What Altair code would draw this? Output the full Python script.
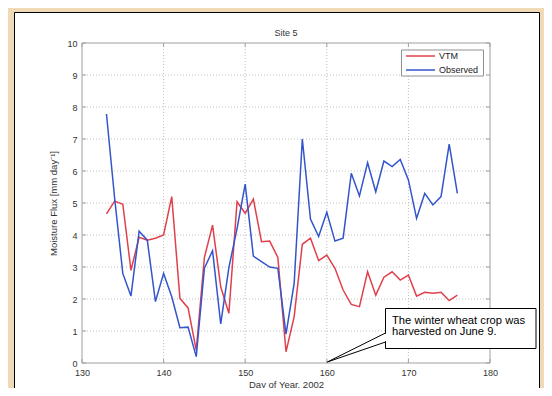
import altair as alt
import pandas as pd

# ---- data ----
days = list(range(133, 177))
vtm = [4.66, 5.06, 4.96, 2.90, 3.93, 3.84, 3.90, 4.00, 5.20, 2.02,
       1.72, 0.40, 3.30, 4.31, 2.38, 1.55, 5.04, 4.68, 5.12, 3.79,
       3.81, 3.30, 0.35, 1.45, 3.71, 3.90, 3.20, 3.37, 2.96, 2.28,
       1.83, 1.76, 2.85, 2.12, 2.68, 2.85, 2.59, 2.75, 2.09, 2.21,
       2.18, 2.21, 1.95, 2.12]
observed = [7.78, 5.15, 2.80, 2.09, 4.12, 3.84, 1.92, 2.80, 2.07, 1.10,
            1.12, 0.20, 2.96, 3.51, 1.22, 2.98, 4.20, 5.59, 3.34, 3.17,
            3.00, 2.96, 0.90, 2.49, 7.00, 4.50, 3.95, 4.71, 3.81, 3.90,
            5.93, 5.22, 6.26, 5.35, 6.31, 6.14, 6.36, 5.72, 4.52, 5.30,
            4.94, 5.20, 6.84, 5.30]
series_names = ["VTM", "Observed"]
series_colors = ["#e0404c", "#3355cc"]
x_ticks = [130, 140, 150, 160, 170, 180]
y_ticks = list(range(0, 11))
note_lines = ["The winter wheat crop was", "harvested on June 9."]
title_text = "Site 5"
x_title = "Day of Year, 2002"
y_title = "Moisture Flux [mm day\u207b\u00b9]"

df = pd.DataFrame({
    "day": days * 2,
    "flux": vtm + observed,
    "series": [series_names[0]] * len(days) + [series_names[1]] * len(days),
})
dummy = pd.DataFrame({"a": [0]})

FONT = "Liberation Sans"
W, H = 408, 320
FRAME = "#a0a0a0"
xs = alt.Scale(domain=[130, 180], nice=False)
ys = alt.Scale(domain=[0, 10], nice=False)

xaxis = alt.Axis(
    values=x_ticks, title=x_title, grid=False, domain=False, ticks=False,
    labelFontSize=9, labelColor="#333", labelPadding=5, labelFlush=False,
    titleFontSize=9.5, titleFontWeight="normal", titleColor="#333",
    titlePadding=2, zindex=1)
yaxis = alt.Axis(
    values=y_ticks, title=y_title, grid=False, domain=False, ticks=False,
    labelFontSize=9, labelColor="#333", labelPadding=5, labelFlush=False,
    titleFontSize=9.5, titleFontWeight="normal", titleColor="#333",
    titlePadding=8, zindex=1)

panel = alt.Chart(dummy).mark_rect(fill="white", stroke="black", strokeWidth=1).encode(
    x=alt.value(-67.5), x2=alt.value(457.5), y=alt.value(-30.5), y2=alt.value(360)
)

title_mark = alt.Chart(dummy).mark_text(
    text=title_text, align="center", baseline="alphabetic", fontSize=9, font=FONT, color="#333"
).encode(x=alt.value(W / 2), y=alt.value(-7))

xgrid = alt.Chart(pd.DataFrame({"t": x_ticks[1:-1]})).mark_rule(
    color="#c0c0c0", strokeDash=[1, 2], strokeWidth=1
).encode(x=alt.X("t:Q", scale=xs, axis=xaxis))

ygrid = alt.Chart(pd.DataFrame({"t": y_ticks[1:-1]})).mark_rule(
    color="#c0c0c0", strokeDash=[1, 2], strokeWidth=1
).encode(y=alt.Y("t:Q", scale=ys, axis=yaxis))

lines = alt.Chart(df).mark_line(strokeWidth=1.5).encode(
    x=alt.X("day:Q", scale=xs, axis=xaxis),
    y=alt.Y("flux:Q", scale=ys, axis=yaxis),
    color=alt.Color("series:N", scale=alt.Scale(domain=series_names, range=series_colors), legend=None),
)

frame = alt.Chart(dummy).mark_rect(fillOpacity=0, stroke=FRAME, strokeWidth=1).encode(
    x=alt.value(0), x2=alt.value(W), y=alt.value(0), y2=alt.value(H)
)

xt = pd.DataFrame({"t": x_ticks})
yt = pd.DataFrame({"t": y_ticks})
tick_layers = [
    alt.Chart(xt).mark_rule(color=FRAME).encode(x=alt.X("t:Q", scale=xs, axis=xaxis), y=alt.value(H), y2=alt.value(H - 4)),
    alt.Chart(xt).mark_rule(color=FRAME).encode(x=alt.X("t:Q", scale=xs, axis=xaxis), y=alt.value(0), y2=alt.value(4)),
    alt.Chart(yt).mark_rule(color=FRAME).encode(y=alt.Y("t:Q", scale=ys, axis=yaxis), x=alt.value(0), x2=alt.value(4)),
    alt.Chart(yt).mark_rule(color=FRAME).encode(y=alt.Y("t:Q", scale=ys, axis=yaxis), x=alt.value(W - 4), x2=alt.value(W)),
]

# legend
legend_layers = [
    alt.Chart(dummy).mark_rect(fill="white", stroke="#909090", strokeWidth=1).encode(
        x=alt.value(319.5), x2=alt.value(401.5), y=alt.value(7), y2=alt.value(33))
]
for i, (nm, col) in enumerate(zip(series_names, series_colors)):
    yy = 13 + 14 * i
    legend_layers.append(alt.Chart(dummy).mark_rule(color=col, strokeWidth=1.5).encode(
        x=alt.value(324), x2=alt.value(353), y=alt.value(yy)))
    legend_layers.append(alt.Chart(dummy).mark_text(
        text=nm, align="left", baseline="middle", fontSize=9, font=FONT, color="#222").encode(
        x=alt.value(357), y=alt.value(yy)))

# annotation callout
note_layers = [
    alt.Chart(dummy).mark_rect(fill="white", stroke="black", strokeWidth=1).encode(
        x=alt.value(303.5), x2=alt.value(454), y=alt.value(265.5), y2=alt.value(305.5)),
    alt.Chart(dummy).mark_rule(color="white", strokeWidth=2).encode(
        x=alt.value(303.5), y=alt.value(290.8), y2=alt.value(298.2)),
    alt.Chart(dummy).mark_rule(color="black", strokeWidth=1).encode(
        x=alt.value(303.5), x2=alt.value(245.3), y=alt.value(290), y2=alt.value(319)),
    alt.Chart(dummy).mark_rule(color="black", strokeWidth=1).encode(
        x=alt.value(303.5), x2=alt.value(245.3), y=alt.value(299), y2=alt.value(319)),
]
for i, ln in enumerate(note_lines):
    note_layers.append(alt.Chart(dummy).mark_text(
        text=ln, align="left", baseline="alphabetic", fontSize=11.2, font=FONT, color="black").encode(
        x=alt.value(310), y=alt.value(280.5 + 11.7 * i)))

chart = alt.layer(
    panel, title_mark, xgrid, ygrid, lines, frame, *tick_layers, *legend_layers, *note_layers
).properties(
    width=W, height=H,
    autosize=alt.AutoSizeParams(type="none"),
    padding={"left": 74, "top": 35, "right": 54, "bottom": 25},
    background="#f0dab6",
).configure(font=FONT).configure_view(stroke="transparent")

chart.save("out.html", embed_options={"renderer": "svg", "actions": False})
